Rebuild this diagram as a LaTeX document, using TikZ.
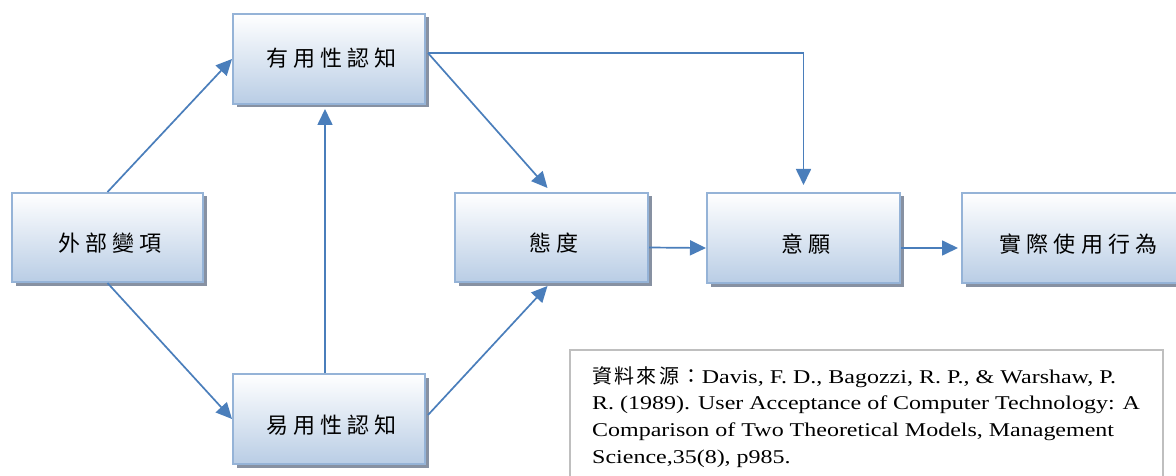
\documentclass[tikz,border=0pt]{standalone}
\usepackage{fontspec}
\setmainfont{Liberation Serif}[FakeStretch=1.23]
\newfontfamily\boxfont[LetterSpace=23]{Noto Sans CJK TC}
\newfontfamily\srccjk[LetterSpace=12]{Noto Sans CJK TC}
\usetikzlibrary{arrows.meta,shadows,calc}

\definecolor{linkblue}{RGB}{74,126,187}
\definecolor{boxedge}{RGB}{149,179,215}
\definecolor{boxbot}{RGB}{185,205,229}
\definecolor{boxshadow}{RGB}{135,145,162}
\definecolor{srcedge}{RGB}{191,191,191}

% label inside a concept box, lowered by #1 without changing the box size
\newcommand{\boxlabel}[2][6pt]{\raisebox{-#1}[\height][\depth]{#2\kern-5pt}}

\begin{document}
\begin{tikzpicture}[x=1pt,y=-1pt,
  concept/.style={draw=boxedge, line width=2pt, top color=white, bottom color=boxbot,
    minimum width=192pt, minimum height=90pt, inner sep=0pt,
    font={\boxfont\fontsize{22}{26}\selectfont},
    drop shadow={shadow xshift=3.5pt, shadow yshift=-3.5pt, fill=boxshadow, opacity=1}},
  link/.style={draw=linkblue, line width=1.7pt, -{Triangle[length=16pt,width=15pt]}},
]
\useasboundingbox (0,0) rectangle (1176,476);
\fill[white] (0,0) rectangle (1176,476);
\clip (0,0) rectangle (1176,476);

% concept boxes
\node[concept] (use) at (329,59) {\boxlabel[-1pt]{有用性認知}};
\node[concept, minimum width=191pt, minimum height=89pt] (ext) at (107.5,237.5) {\boxlabel{外部變項}};
\node[concept] (eou) at (329,419) {\boxlabel{易用性認知}};
\node[concept, minimum width=193pt, minimum height=89pt] (att) at (551.5,237.5) {\boxlabel{態度}};
\node[concept, minimum width=193pt] (int) at (803.5,238) {\boxlabel{意願}};
\node[concept, minimum width=228pt] (act) at (1076,238) {\boxlabel{實際使用行為}\hspace{24pt}};

% connectors
\coordinate (usr) at ($(use.east)+(2,-6)$);
\draw[link] (ext.north) -- (use.west);
\draw[link] (ext.south) -- (eou.west);
\draw[link] ($(eou.north)+(-4,0)$) -- ($(use.south)+(-4,4)$);
\draw[link] (usr) -- ($(att.north)+(-4,-4)$);
\draw[link] (usr) -| ($(int.north)+(0,-7)$);
\draw[link] ($(eou.east)+(2,-4)$) -- ($(att.south)+(-4,3)$);
\draw[link] ($(att.east)+(0,10)$) -- ($(int.west)+(0,10)$);
\draw[link] ($(int.east)+(0,10)$) -- ($(act.west)+(-3,10)$);

% source note
\node[draw=srcedge, line width=1.5pt, anchor=north west, minimum width=593pt,
      minimum height=150pt, inner sep=0pt] (src) at (569,349) {};
\node[anchor=north west, inner sep=0pt, align=left,
      font={\fontsize{19.5}{26.7}\selectfont}] (srctxt) at ($(src.north west)+(23,17)$)
  {{\srccjk\fontsize{20}{26.7}\selectfont 資料來源：}Davis, F. D., Bagozzi, R. P., \& Warshaw, P.\\
   R. (1989). User Acceptance of Computer Technology: A\\
   Comparison of Two Theoretical Models, Management\\
   Science,35(8), p985.};
\end{tikzpicture}
\end{document}
